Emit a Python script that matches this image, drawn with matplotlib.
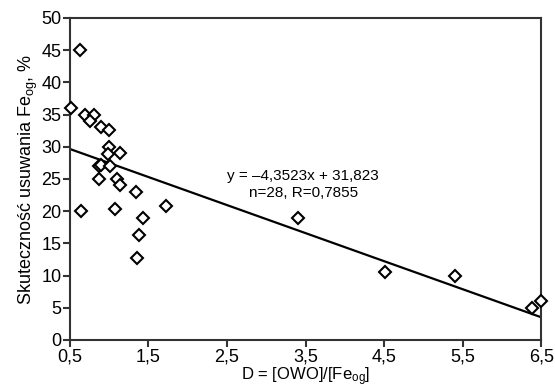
import matplotlib
matplotlib.use('Agg')
import matplotlib.pyplot as plt
import numpy as np

plt.rcParams['font.family'] = ['Liberation Sans', 'DejaVu Sans']
plt.rcParams['mathtext.default'] = 'regular'

# data
d_ratio = [0.63, 0.51, 0.69, 0.81, 0.76, 0.90, 1.00, 1.00, 0.99, 1.14,
           0.87, 0.90, 1.01, 0.87, 1.10, 1.14, 1.34, 0.64, 1.07, 1.72,
           1.43, 1.38, 1.35, 3.40, 4.51, 5.40, 6.39, 6.50]
removal = [45.0, 36.0, 35.0, 35.0, 34.0, 33.0, 32.6, 30.0, 28.8, 29.0,
           27.0, 27.2, 27.0, 25.0, 25.0, 24.0, 23.0, 20.0, 20.4, 20.8,
           19.0, 16.3, 12.7, 19.0, 10.5, 10.0, 5.0, 6.0]

slope = -4.3523
intercept = 31.823
r_value = 0.7855

x_ticks = [0.5, 1.5, 2.5, 3.5, 4.5, 5.5, 6.5]
y_ticks = [0, 5, 10, 15, 20, 25, 30, 35, 40, 45, 50]

fig = plt.figure(figsize=(5.55, 3.89), dpi=100)
ax = fig.add_axes([0.126, 0.126, 0.849, 0.828])

# regression line over the whole axis
xl = np.array([x_ticks[0], x_ticks[-1]])
ax.plot(xl, slope * xl + intercept, color='black', linewidth=1.6, zorder=2)

ax.plot(d_ratio, removal, linestyle='none', marker='D', markersize=5.8,
        markerfacecolor='white', markeredgecolor='black',
        markeredgewidth=1.5, zorder=3, clip_on=False)

ax.text(3.47, 25.5, 'y = \u20134,3523x + 31,823', ha='center', va='center',
        fontsize=11)
ax.text(3.47, 22.8, 'n=28, R=0,7855', ha='center', va='center', fontsize=11)

ax.set_xlim(0.5, 6.5)
ax.set_ylim(0, 50)
ax.set_xticks(x_ticks)
ax.set_xticklabels([f'{v:.1f}'.replace('.', ',') for v in x_ticks])
ax.set_yticks(y_ticks)
ax.set_yticklabels([str(v) for v in y_ticks])

for s in ax.spines.values():
    s.set_linewidth(1.5)
    s.set_color('#333333')
ax.tick_params(direction='out', length=5, width=1.5, color='#333333',
               labelsize=13, pad=1)

ax.set_xlabel('D = [OWO]/[Fe$_{og}$]', fontsize=12, labelpad=0)
ax.set_ylabel('Skuteczno\u015b\u0107 usuwania Fe$_{og}$, %', fontsize=13,
              labelpad=1)

fig.savefig('out.png', dpi=100)
